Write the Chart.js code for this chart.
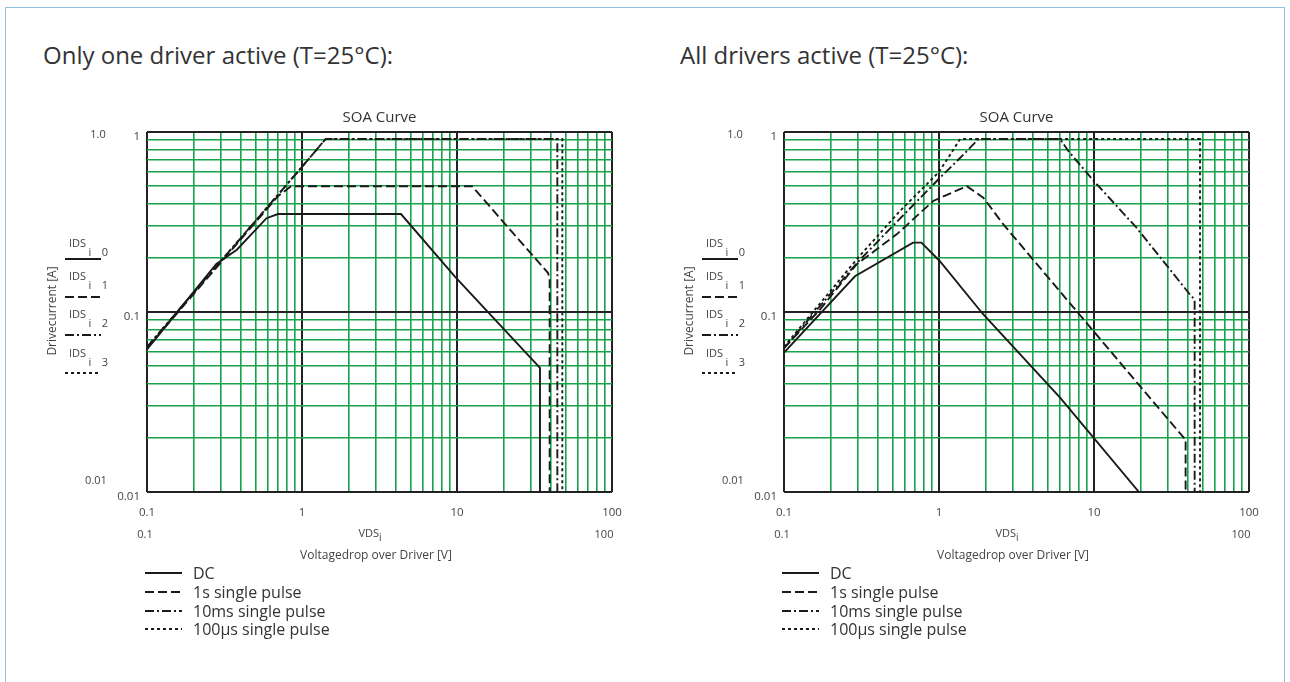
<!DOCTYPE html>
<html lang="en">
<head>
<meta charset="UTF-8">
<title>SOA Curve</title>
<script src="https://cdn.jsdelivr.net/npm/chart.js"></script>
<style>
    body { margin: 0; background: #fff; font-family: 'Open Sans', sans-serif; color: #333; }
    #page { position: relative; width: 1290px; height: 682px; overflow: hidden; }
    .frame { position: absolute; left: 5px; top: 7px; width: 1280px; height: 720px; border: 1.5px solid #93bfdc; box-sizing: border-box; }
    .t { position: absolute; white-space: nowrap; line-height: 1; transform: translate(-50%, -50%); }
    .l { transform: translate(0, -50%); }
    .head { font-size: 24px; color: #333; transform: none; }
    .s11 { font-size: 11px; color: #444; }
    .s12 { font-size: 12px; color: #444; }
    .s16 { font-size: 16px; color: #333; }
    .rot { transform: translate(-50%, -50%) rotate(-90deg); }
    canvas { position: absolute; top: 90px; }
    svg { position: absolute; overflow: visible; }
</style>
</head>
<body>
<div id="page">
    <div class="frame"></div>
    <div class="t head" style="left:43px; top:42.5px">Only one driver active (T=25°C):</div>
    <div class="t head" style="left:680px; top:42.5px">All drivers active (T=25°C):</div>
    <canvas id="oneChart" width="640" height="440" style="left:0px"></canvas>
    <canvas id="allChart" width="640" height="440" style="left:637px"></canvas>
</div>

<script>
    // grid / ticks
    const xGrid = [0.1, 0.2, 0.3, 0.4, 0.5, 0.6, 0.7, 0.8, 0.9, 1, 2, 3, 4, 5, 6, 7, 8, 9, 10, 20, 30, 40, 50, 60, 70, 80, 90, 100];
    const yGrid = [0.01, 0.02, 0.03, 0.04, 0.05, 0.06, 0.07, 0.08, 0.09, 0.1, 0.2, 0.3, 0.4, 0.5, 0.6, 0.7, 0.8, 0.9, 1];
    const xMajor = [0.1, 1, 10, 100];
    const yMajor = [0.01, 0.1, 1];
    const xTickLabels = ['0.1', '1', '10', '100'];
    const yTickLabels = ['0.01', '0.1', '1'];
    const seriesNames = ['DC', '1s single pulse', '10ms single pulse', '100µs single pulse'];
    const seriesDash = [[], [9, 4], [9, 3, 2, 3], [3, 3]];

    // only one driver active: voltage [V] / current [A]
    const oneDcV = [0.1, 0.28, 0.38, 0.59, 0.7, 4.35, 9.7, 34.3, 34.3];
    const oneDcA = [0.062, 0.185, 0.222, 0.332, 0.35, 0.35, 0.157, 0.049, 0.01];
    const one1sV = [0.1, 0.7, 0.85, 12.5, 38.6, 39.6, 39.6];
    const one1sA = [0.063, 0.44, 0.5, 0.5, 0.165, 0.155, 0.01];
    const one10msV = [0.1, 1, 1.42, 44.4, 44.4];
    const one10msA = [0.064, 0.64, 0.914, 0.914, 0.01];
    const one100usV = [0.1, 1, 1.42, 47.8, 47.8];
    const one100usA = [0.064, 0.64, 0.914, 0.914, 0.01];

    // all drivers active
    const allDcV = [0.1, 0.287, 0.68, 0.77, 1.01, 1.92, 6.04, 19.5];
    const allDcA = [0.0595, 0.158, 0.243, 0.243, 0.192, 0.0975, 0.0334, 0.01];
    const all1sV = [0.1, 0.171, 0.294, 0.533, 0.918, 1.51, 1.93, 2.6, 7.73, 22.9, 38.6, 39, 39];
    const all1sA = [0.063, 0.1035, 0.184, 0.27, 0.414, 0.5, 0.432, 0.307, 0.101, 0.0334, 0.0197, 0.0197, 0.01];
    const all10msV = [0.1, 0.3, 0.56, 1.0, 1.44, 1.8, 6.04, 6.83, 9.75, 18.8, 41.6, 44.6, 44.6];
    const all10msA = [0.063, 0.19, 0.33, 0.55, 0.75, 0.914, 0.914, 0.784, 0.546, 0.294, 0.125, 0.117, 0.01];
    const all100usV = [0.1, 0.3, 0.56, 1.0, 1.37, 48.3, 48.3];
    const all100usA = [0.064, 0.2, 0.364, 0.6, 0.914, 0.914, 0.01];

    const GREEN = '#17a24b';
    const INK = '#1a1a1a';

    function pts(xs, ys) {
        return xs.map((x, i) => ({ x: x, y: ys[i] }));
    }

    function makeChart(id, series) {
        const ctx = document.getElementById(id).getContext('2d');
        return new Chart(ctx, {
            type: 'scatter',
            data: {
                datasets: series.map((s, i) => ({
                    label: seriesNames[i],
                    data: pts(s[0], s[1]),
                    showLine: true,
                    borderColor: INK,
                    borderWidth: 1.9,
                    borderDash: seriesDash[i],
                    pointRadius: 0,
                    tension: 0,
                    fill: false
                }))
            },
            options: {
                responsive: false,
                animation: false,
                devicePixelRatio: 1,
                layout: { padding: { left: 0, right: 28, top: 0, bottom: 0 } },
                plugins: {
                    legend: { display: false },
                    tooltip: { enabled: false },
                    title: { display: false }
                },
                scales: {
                    // empty top axis, only carries the "SOA Curve" title centred over the plot
                    top: {
                        type: 'logarithmic',
                        position: 'top',
                        min: 0.1, max: 100,
                        afterFit: s => { s.height = 42; },
                        border: { display: false },
                        grid: { display: false },
                        ticks: { display: false },
                        title: {
                            display: true,
                            text: 'SOA Curve',
                            color: '#333',
                            font: { family: 'Open Sans', size: 15, weight: 'normal' },
                            padding: { top: 19, bottom: 0 }
                        }
                    },
                    x: {
                        type: 'logarithmic',
                        position: 'bottom',
                        min: 0.1, max: 100,
                        afterBuildTicks: s => { s.ticks = xGrid.map(v => ({ value: v })); },
                        afterFit: s => { s.height = 38; },
                        border: { display: false },
                        grid: {
                            drawTicks: false,
                            color: c => xMajor.includes(c.tick && c.tick.value) ? '#222' : GREEN,
                            lineWidth: c => xMajor.includes(c.tick && c.tick.value) ? 2 : 1.6
                        },
                        ticks: {
                            autoSkip: false, maxRotation: 0, padding: 14,
                            color: '#444',
                            font: { family: 'Open Sans', size: 11.5 },
                            callback: v => { const k = xMajor.indexOf(v); return k >= 0 ? xTickLabels[k] : ''; }
                        }
                    },
                    y: {
                        type: 'logarithmic',
                        min: 0.01, max: 1,
                        afterBuildTicks: s => { s.ticks = yGrid.map(v => ({ value: v })); },
                        afterFit: s => { s.width = 147; },
                        border: { display: false },
                        grid: {
                            drawTicks: false,
                            color: c => yMajor.includes(c.tick && c.tick.value) ? '#222' : GREEN,
                            lineWidth: c => yMajor.includes(c.tick && c.tick.value) ? 2 : 1.6
                        },
                        ticks: {
                            autoSkip: false, padding: 7, labelOffset: 5,
                            color: '#444',
                            font: { family: 'Open Sans', size: 11.5 },
                            callback: v => { const k = yMajor.indexOf(v); return k >= 0 ? yTickLabels[k] : ''; }
                        }
                    }
                }
            }
        });
    }

    makeChart('oneChart', [[oneDcV, oneDcA], [one1sV, one1sA], [one10msV, one10msA], [one100usV, one100usA]]);
    makeChart('allChart', [[allDcV, allDcA], [all1sV, all1sA], [all10msV, all10msA], [all100usV, all100usA]]);

    // Mathcad style labels around each plot
    const page = document.getElementById('page');
    function put(html, x, y, cls) {
        const d = document.createElement('div');
        d.className = 't ' + cls;
        d.style.left = x + 'px';
        d.style.top = y + 'px';
        d.innerHTML = html;
        page.appendChild(d);
    }
    function sample(x1, x2, y, dash) {
        const svg = document.createElementNS('http://www.w3.org/2000/svg', 'svg');
        svg.setAttribute('width', 1); svg.setAttribute('height', 1);
        svg.style.left = '0px'; svg.style.top = '0px';
        svg.innerHTML = '<line x1="' + x1 + '" y1="' + y + '" x2="' + x2 + '" y2="' + y +
            '" stroke="' + INK + '" stroke-width="2" stroke-dasharray="' + (dash.length ? dash.join(' ') : 'none') + '"/>';
        page.appendChild(svg);
    }

    const idsY = [242, 275, 313, 352];
    const lineY = [259, 297, 335, 373];
    const legY = [573, 592, 611, 629];

    [0, 637].forEach(dx => {
        put('1.0', dx + 98, 133, 's11');
        put('0.01', dx + 96, 479, 's11');
        put('0.1', dx + 145, 533, 's11');
        put('VDS<sub style="font-size:10px;vertical-align:-4px">i</sub>', dx + 370, 534, 's11');
        put('100', dx + 604, 533, 's11');
        put('Voltagedrop over Driver [V]', dx + 376, 555, 's12');
        put('Drivecurrent [A]', dx + 52, 311, 's12 rot');
        for (let k = 0; k < 4; k++) {
            put('IDS', dx + 69, idsY[k], 's11 l');
            put('i', dx + 90, idsY[k] + 9, 's11');
            put(String(k), dx + 105, idsY[k] + 9, 's11');
            sample(dx + 65, dx + 101, lineY[k], seriesDash[k]);
            sample(dx + 145, dx + 182, legY[k], seriesDash[k]);
            put(seriesNames[k], dx + 193, legY[k], 's16 l');
        }
    });
</script>
</body>
</html>
